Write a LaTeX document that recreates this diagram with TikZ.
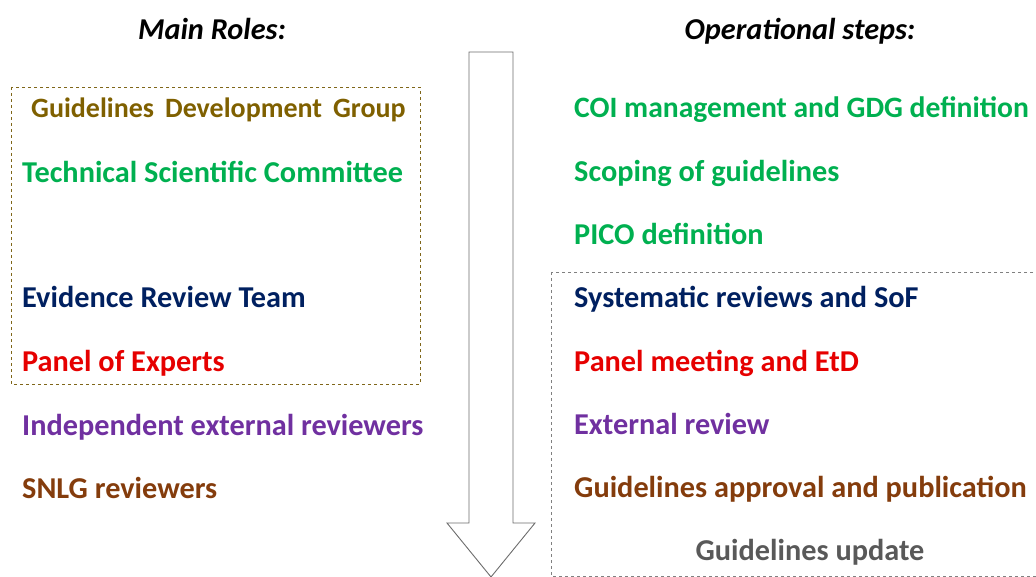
\documentclass[tikz,border=0pt]{standalone}
\usepackage{fontspec}
\setmainfont{Carlito}
\definecolor{gdgolive}{RGB}{127,96,0}
\definecolor{tscgreen}{RGB}{0,176,80}
\definecolor{ertnavy}{RGB}{0,32,96}
\definecolor{panelred}{RGB}{230,0,0}
\definecolor{extpurple}{RGB}{112,48,160}
\definecolor{snlgbrown}{RGB}{132,60,12}
\definecolor{updgray}{RGB}{89,89,89}
\begin{document}
\begin{tikzpicture}[x=1pt, y=-1pt,
        item/.style={anchor=base west, inner sep=0pt, font=\fontsize{30.3}{34}\selectfont\bfseries},
        head/.style={anchor=base, inner sep=0pt, font=\fontsize{30.3}{34}\selectfont\bfseries\itshape},
        frame/.style={dashed, line width=0.8pt}]
        \useasboundingbox (0, 0) rectangle (1036, 577);

        % flow arrow
        \coordinate (tl) at (469, 52);
        \coordinate (tr) at (513, 52);
        \coordinate (bl) at (469, 523);
        \coordinate (br) at (513, 523);
        \coordinate (wl) at (447, 523);
        \coordinate (wr) at (535, 523);
        \coordinate (tip) at (491, 577);
        \draw[gray!85!black, line width=0.9pt] (tl) -- (tr) -- (br) -- (wr) -- (tip) -- (wl) -- (bl) -- cycle;

        % frames
        \draw[frame, gdgolive!80!gray] (11, 87) rectangle (420, 384);
        \begin{scope}
            \clip (0, 0) rectangle (1036, 577);
            \draw[frame, gray] (551, 272) rectangle (1046, 576);
        \end{scope}

        \node[head] (roles) at (212, 40) {Main Roles:};
        \node[head] (steps) at (800, 40) {Operational steps:};

        \node[item, gdgolive, font=\fontsize{28}{32}\selectfont\bfseries] (gdg) at (31, 118) {Guidelines\, Development\, Group};
        \node[item, tscgreen] (tsc) at (22, 183) {Technical Scientific Committee};
        \node[item, ertnavy] (ert) at (22, 308) {Evidence Review Team};
        \node[item, panelred] (poe) at (22, 371) {Panel of Experts};
        \node[item, extpurple] (ier) at (22, 435) {Independent external reviewers};
        \node[item, snlgbrown] (snlg) at (22, 498) {SNLG reviewers};

        \node[item, tscgreen, font=\fontsize{29.6}{34}\selectfont\bfseries] (coi) at (574, 118) {COI management and GDG definition};
        \node[item, tscgreen] (scope) at (574, 182) {Scoping of guidelines};
        \node[item, tscgreen] (pico) at (574, 245) {PICO definition};
        \node[item, ertnavy] (sof) at (574, 308) {Systematic reviews and SoF};
        \node[item, panelred] (etd) at (574, 371) {Panel meeting and EtD};
        \node[item, extpurple] (extrev) at (574, 434) {External review};
        \node[item, snlgbrown] (pub) at (574, 497) {Guidelines approval and publication};
        \node[item, updgray, anchor=base] (upd) at (810, 560) {Guidelines update};

    \end{tikzpicture}
\end{document}
